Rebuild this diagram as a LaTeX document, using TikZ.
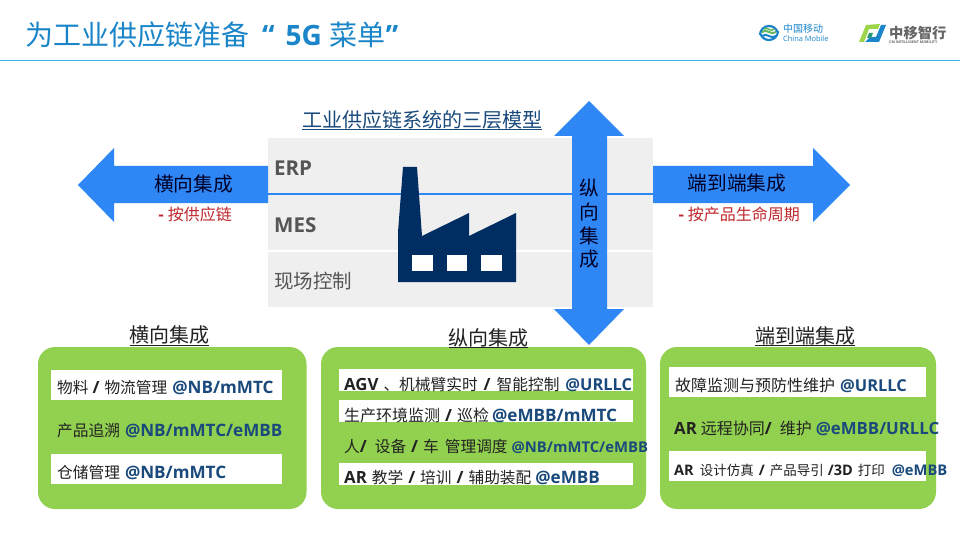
\documentclass[tikz,border=0pt]{standalone}
\usepackage{fontspec}
\setmainfont{Open Sans}
\newfontfamily\cjkf{Noto Sans CJK SC}
\definecolor{arrowblue}{HTML}{2F86F5}
\definecolor{bandgrey}{HTML}{EFEFEF}
\definecolor{navy}{HTML}{002D62}
\definecolor{boxgreen}{HTML}{92D050}
\definecolor{tagblue}{HTML}{1A4A7C}
\definecolor{titleblue}{HTML}{1A85C8}
\definecolor{ruleblue}{HTML}{35B4E0}
\definecolor{labgrey}{HTML}{555555}
\definecolor{redlab}{HTML}{C0272D}
\definecolor{inkdark}{HTML}{222222}
\newcommand\Zh[2][16]{{\cjkf\fontsize{#1}{20}\selectfont #2}}
\newcommand\Lb[2][16.8]{{\bfseries\fontsize{#1}{20}\selectfont #2}}
\newcommand\Tg[2][17.1]{{\bfseries\fontsize{#1}{20}\selectfont\color{tagblue}#2}}
\newcommand\Gp[1]{\hspace{#1pt}}
\tikzset{
  rowtext/.style={anchor=base west,inner sep=0pt,text=inkdark},
  greenbox/.style={fill=boxgreen,draw=none,rounded corners=17pt},
  whitestrip/.style={fill=white,draw=none},
  bluearrow/.style={fill=arrowblue,draw=none},
  heading/.style={inner sep=1pt,text=inkdark,font=\cjkf\fontsize{20}{24}\selectfont},
  headrule/.style={draw=inkdark,line width=1pt},
  arrowlab/.style={inner sep=0pt,text=black!85!blue,font=\cjkf\fontsize{19.7}{24}\selectfont},
  redtext/.style={inner sep=0pt,text=redlab,font=\cjkf\fontsize{16}{20}\selectfont},
  layerlab/.style={anchor=base west,inner sep=0pt,text=labgrey},
}
\begin{document}
\begin{tikzpicture}[x=1pt,y=-1pt]
\useasboundingbox (0,0) rectangle (960,540);
\fill[white] (0,0) rectangle (960,540);
% title
\node[anchor=base west,inner sep=0pt,text=titleblue] (title) at (25,45.5)
  {\Zh[28]{为工业供应链准备}\Gp{13}\Lb[28]{“}\Gp{11}\Lb[28]{5G}\Gp{8}\Zh[28]{菜单}\Lb[28]{”}};
\draw[ruleblue,line width=1pt] (0,60.5) -- (960,60.5);
% China Mobile logo
\begin{scope}[shift={(769,33)}]
  \draw[titleblue,line width=2.2pt] (-9,2) arc (180:340:9);
  \draw[titleblue,line width=2.2pt] (9,-2) arc (0:160:9);
  \draw[boxgreen!70!teal,line width=2pt] (-7,-1) .. controls (-2,-5) and (2,3) .. (7,-1);
  \draw[titleblue,line width=2pt] (-7,3) .. controls (-2,-1) and (2,7) .. (7,3);
  \draw[boxgreen!70!teal,line width=1.6pt] (-5,-4) .. controls (-2,-7) and (2,0) .. (5,-4);
\end{scope}
\node[anchor=base west,inner sep=0pt,text=titleblue] (cmzh) at (783,33) {\Zh[10]{中国移动}};
\node[anchor=base west,inner sep=0pt,text=titleblue] (cmen) at (783,41.5) {\fontsize{7.4}{9}\selectfont China Mobile};
% CM Intelligent Mobility logo
\fill[boxgreen!90!yellow] (859,42) -- (866,25) -- (880,24) -- (878,29) -- (869,29) -- (864,42) -- cycle;
\fill[titleblue] (865,42) -- (879,42) -- (886,25) -- (881,25) -- (876,37) -- (870,37) -- cycle;
\fill[teal!70!boxgreen] (869,33) -- (873,33) -- (871,38) -- (867,38) -- cycle;
\node[anchor=base west,inner sep=0pt,text=black!60] (cmi) at (889,39) {\cjkf\bfseries\fontsize{14.3}{16}\selectfont 中移智行};
\node[anchor=base west,inner sep=0pt,text=black!60] (cmisub) at (889,44) {\bfseries\fontsize{3.6}{4}\selectfont CM INTELLIGENT MOBILITY};
% layer bands
\fill[bandgrey] (268,138) rectangle (653,193);
\fill[bandgrey] (268,195) rectangle (653,250);
\fill[bandgrey] (268,252) rectangle (653,306.5);
\draw[arrowblue,line width=2pt] (268,193.5) -- (653,193.5);
% horizontal arrows
\fill[bluearrow] (268,166) -- (114,166) -- (114,148) -- (78,185) -- (114,222) -- (114,203) -- (268,203) -- cycle;
\fill[bluearrow] (653,166) -- (813,166) -- (813,148) -- (850,185) -- (813,222) -- (813,203) -- (653,203) -- cycle;
% vertical arrow
\fill[bluearrow] (572,136) -- (554,136) -- (589,101) -- (624,136) -- (607,136) -- (607,309) -- (624,309) -- (589,345) -- (554,309) -- (572,309) -- cycle;
% factory
\fill[navy] (403,167) -- (417,167) -- (422,236) -- (469,213) -- (469,236) -- (516,213) -- (516,282) -- (398,282) -- (398,232) -- cycle;
\fill[white] (412,255) rectangle (433,271);
\fill[white] (447,255) rectangle (467,271);
\fill[white] (481,255) rectangle (502,271);
% layer labels
\node[layerlab] (erp) at (274,175.5) {\Lb[20.5]{ERP}};
\node[layerlab] (mes) at (274,232.5) {\Lb[20.5]{MES}};
\node[layerlab] (field) at (274,288) {\Zh[19.5]{现场控制}};
% model title
\node[inner sep=1pt,text=tagblue,font=\cjkf\fontsize{20}{24}\selectfont] (model) at (422,119.5) {工业供应链系统的三层模型};
\draw[tagblue,line width=1pt] (302,129.5) -- (542,129.5);
% arrow labels
\node[arrowlab] (vertlab) at (589,188.5) {纵};
\node[arrowlab] (vertlabb) at (589,212) {向};
\node[arrowlab] (vertlabc) at (589,236) {集};
\node[arrowlab] (vertlabd) at (589,259.5) {成};
\node[arrowlab] (hl) at (193.5,184.5) {横向集成};
\node[arrowlab] (el) at (737,183) {端到端集成};
\node[redtext] (hr) at (195,214.5) {\Lb[15.5]{-} 按供应链};
\node[redtext] (er) at (739,214) {\Lb[15.5]{-} 按产品生命周期};
% green panels
\fill[greenbox] (38,347) rectangle (306.5,509);
\fill[greenbox] (321,347) rectangle (646,509);
\fill[greenbox] (660,347) rectangle (936,509);
% strips
\fill[whitestrip] (51,370) rectangle (282,400);
\fill[whitestrip] (51,454) rectangle (282,484);
\fill[whitestrip] (339,369) rectangle (633,391);
\fill[whitestrip] (339,400) rectangle (633,422);
\fill[whitestrip] (339,463) rectangle (633,485);
\fill[whitestrip] (669,367) rectangle (926,397);
\fill[whitestrip] (669,451) rectangle (926,481);
% headings
\node[heading] (h1) at (169,335) {横向集成};
\draw[headrule] (129.5,345) -- (209,345);
\node[heading] (h2) at (488,338) {纵向集成};
\draw[headrule] (449,347.5) -- (528,347.5);
\node[heading] (h3) at (805,335.5) {端到端集成};
\draw[headrule] (755,345) -- (855,345);
% panel 1
\node[rowtext] (a1) at (57,393) {\Zh[15.7]{物料}\Gp{4}\Lb{/}\Gp{5}\Zh[15.7]{物流管理}\Gp{5}\Tg{@NB/mMTC}};
\node[rowtext] (a2) at (57,436) {\Zh[15.7]{产品追溯}\Gp{5}\Tg{@NB/mMTC/eMBB}};
\node[rowtext] (a3) at (57,478) {\Zh[15.7]{仓储管理}\Gp{5}\Tg{@NB/mMTC}};
% panel 2
\node[rowtext] (b1) at (344,390) {\Lb{AGV}\Gp{5}\Zh[15.7]{、机械臂实时}\Gp{6}\Lb{/}\Gp{6}\Zh[15.7]{智能控制}\Gp{6}\Tg[16.4]{@URLLC}};
\node[rowtext] (b2) at (344,421) {\Zh{生产环境监测}\Gp{5}\Lb{/}\Gp{5}\Zh{巡检}\Gp{3}\Tg{@eMBB/mMTC}};
\node[rowtext] (b3) at (344,452.5) {\Zh[15.7]{人}\Lb{/}\Gp{8}\Zh[15.7]{设备}\Gp{5}\Lb{/}\Gp{5}\Zh[15.7]{车}\Gp{6}\Zh[15.7]{管理调度}\Gp{4}\Tg[14.8]{@NB/mMTC/eMBB}};
\node[rowtext] (b4) at (344,483) {\Lb{AR}\Gp{5}\Zh[15.7]{教学}\Gp{5}\Lb{/}\Gp{5}\Zh[15.7]{培训}\Gp{5}\Lb{/}\Gp{5}\Zh[15.7]{辅助装配}\Gp{4}\Tg{@eMBB}};
% panel 3
\node[rowtext] (c1) at (675,391) {\Zh{故障监测与预防性维护}\Gp{5}\Tg[16.4]{@URLLC}};
\node[rowtext] (c2) at (674,434) {\Lb{AR}\Gp{4}\Zh{远程协同}\Lb{/}\Gp{8}\Zh{维护}\Gp{4}\Tg[16.8]{@eMBB/URLLC}};
\node[rowtext] (c3) at (674,475) {\Lb[14.5]{AR}\Gp{6}\Zh[13.5]{设计仿真}\Gp{5}\Lb[14.5]{/}\Gp{5}\Zh[13.5]{产品导引}\Gp{4}\Lb[14.5]{/3D}\Gp{5}\Zh[13.5]{打印}\Gp{7}\Tg[14.7]{@eMBB}};
\end{tikzpicture}
\end{document}
